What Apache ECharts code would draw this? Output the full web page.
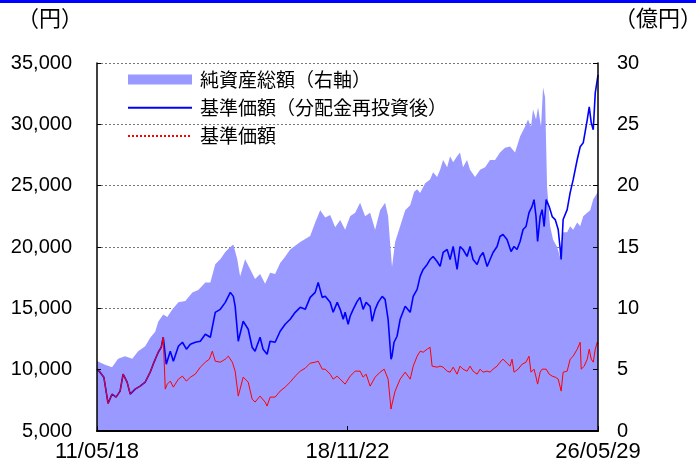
<!DOCTYPE html>
<html>
<head>
<meta charset="utf-8">
<script src="https://cdn.jsdelivr.net/npm/echarts@6/dist/echarts.min.js"></script>
<style>
html,body{margin:0;padding:0;background:#fff;}
#c{width:696px;height:463px;}
</style>
</head>
<body>
<div id="c"></div>
<script>
// ---- data ----
const startDate = '2011-05-18';
const endDate = '2026-05-29';
const xTickLabels = ['11/05/18', '18/11/22', '26/05/29'];
const leftTicks = [5000, 10000, 15000, 20000, 25000, 30000, 35000];
const rightTicks = [0, 5, 10, 15, 20, 25, 30];

const seriesNames = ['純資産総額（右軸）', '基準価額（分配金再投資後）', '基準価額'];

// 純資産総額 (億円, right axis)
const assetDates = ['2011-05-18','2011-08-14','2011-10-30','2012-01-04','2012-03-21','2012-06-07','2012-08-11','2012-10-27','2012-12-21','2013-02-14','2013-03-19','2013-05-13','2013-06-26','2013-08-20','2013-10-26','2014-01-10','2014-03-28','2014-06-01','2014-08-17','2014-10-11','2014-12-04','2015-01-28','2015-03-24','2015-05-18','2015-06-20','2015-08-02','2015-09-02','2015-10-27','2015-12-20','2016-02-13','2016-04-08','2016-06-02','2016-07-27','2016-09-20','2016-11-14','2017-01-08','2017-03-04','2017-06-22','2017-10-09','2017-12-03','2018-01-27','2018-03-23','2018-05-16','2018-07-10','2018-09-03','2018-10-27','2018-12-21','2019-02-14','2019-04-09','2019-06-03','2019-07-28','2019-09-21','2019-11-14','2020-01-08','2020-02-10','2020-03-02','2020-03-24','2020-04-27','2020-06-21','2020-08-15','2020-10-09','2020-11-22','2020-12-24','2021-01-26','2021-03-22','2021-05-15','2021-06-17','2021-07-31','2021-09-02','2021-10-05','2021-11-18','2021-12-20','2022-01-23','2022-03-07','2022-04-08','2022-05-11','2022-06-24','2022-07-27','2022-09-20','2022-11-14','2023-01-08','2023-03-03','2023-04-27','2023-06-20','2023-08-14','2023-10-08','2023-12-02','2024-01-26','2024-03-20','2024-04-22','2024-05-25','2024-06-16','2024-07-19','2024-08-10','2024-09-12','2024-10-04','2024-10-26','2024-11-17','2024-12-20','2025-01-22','2025-03-07','2025-04-07','2025-04-20','2025-05-12','2025-06-25','2025-07-28','2025-08-30','2025-10-13','2025-11-15','2025-12-18','2026-01-31','2026-03-05','2026-04-07','2026-05-21','2026-05-29'];
const assetValues = [5.7,5.4,5.2,5.9,6.1,5.9,6.5,6.9,7.6,8.1,8.9,9.5,9.3,9.9,10.5,10.6,11.3,11.5,12.1,12.1,13.6,14.0,14.6,15.0,15.2,14.0,12.6,14.0,13.2,12.4,12.8,12.0,12.9,12.8,13.7,14.2,14.8,15.4,15.9,17.0,18.0,17.4,17.6,16.6,17.2,16.4,17.5,17.8,18.6,17.5,17.8,16.4,18.0,18.6,17.5,15.4,13.4,15.4,16.7,18.0,18.4,19.5,19.7,19.4,20.2,20.5,21.1,20.7,21.3,22.1,21.5,22.4,21.9,22.4,22.7,21.5,22.1,21.3,20.7,21.3,21.5,22.1,22.1,22.7,23.1,23.2,22.7,24.0,24.8,25.4,24.8,26.2,25.4,26.4,24.8,28.0,27.2,19.9,16.7,15.6,15.0,14.2,14.0,16.2,16.2,16.7,16.4,17.0,16.7,17.5,17.8,18.0,18.9,19.4,19.7];

// 基準価額（分配金再投資後） (円, left axis)
const reinvDates = ['2011-05-18','2011-06-20','2011-08-01','2011-09-16','2011-10-30','2011-12-13','2012-01-26','2012-02-28','2012-04-12','2012-05-16','2012-07-09','2012-09-02','2012-10-27','2012-12-21','2013-01-23','2013-03-19','2013-04-21','2013-05-13','2013-06-15','2013-07-29','2013-09-01','2013-10-26','2013-12-09','2014-01-22','2014-03-06','2014-04-29','2014-06-23','2014-08-17','2014-10-11','2014-12-04','2015-01-28','2015-03-24','2015-05-18','2015-06-20','2015-07-10','2015-08-13','2015-10-06','2015-11-30','2016-01-12','2016-02-13','2016-04-08','2016-05-11','2016-06-24','2016-07-27','2016-09-20','2016-11-14','2017-01-08','2017-03-04','2017-04-28','2017-06-22','2017-08-16','2017-10-09','2017-12-03','2018-01-05','2018-02-18','2018-03-23','2018-05-16','2018-06-18','2018-08-01','2018-09-03','2018-10-06','2018-10-27','2018-11-29','2018-12-21','2019-01-23','2019-03-08','2019-04-09','2019-05-12','2019-06-14','2019-07-28','2019-08-19','2019-09-21','2019-10-24','2019-12-07','2020-01-08','2020-02-10','2020-03-13','2020-03-24','2020-04-15','2020-05-18','2020-06-21','2020-08-15','2020-10-09','2020-11-11','2020-12-24','2021-01-26','2021-02-28','2021-04-13','2021-05-15','2021-06-17','2021-07-31','2021-09-02','2021-10-05','2021-11-18','2021-12-20','2022-01-23','2022-03-07','2022-04-08','2022-05-11','2022-06-24','2022-07-27','2022-08-29','2022-10-12','2022-11-14','2022-12-17','2023-01-30','2023-03-03','2023-04-05','2023-05-19','2023-06-20','2023-07-23','2023-09-05','2023-10-19','2023-11-21','2023-12-24','2024-01-26','2024-02-28','2024-03-31','2024-05-03','2024-06-05','2024-06-27','2024-07-19','2024-08-05','2024-09-02','2024-09-24','2024-10-16','2024-11-07','2024-12-10','2025-01-12','2025-02-14','2025-03-19','2025-04-07','2025-04-20','2025-05-12','2025-06-25','2025-07-28','2025-08-30','2025-10-13','2025-11-15','2025-12-18','2026-01-31','2026-02-22','2026-03-16','2026-04-07','2026-04-29','2026-05-21','2026-05-29'];
const reinvValues = [10041,9797,9390,7250,8008,7764,8252,9634,8984,8008,8415,8659,8984,9797,10447,11423,11829,12642,10447,11504,10691,11911,12236,11667,12073,12236,12317,12886,12642,14675,14919,15488,16301,15976,15163,12317,13943,13293,11829,11504,12642,11667,11260,12317,12236,13130,13699,14106,14675,15081,14919,15894,16301,17114,15894,15976,15488,14675,15488,14919,14106,14675,13699,14350,14919,15569,15894,14919,15488,15163,13943,14919,15488,15976,15732,14106,10854,11098,12236,12724,14106,15163,14675,15976,16545,17602,18171,18577,18984,19228,18821,18415,19553,19797,18984,20041,18171,20041,19797,19228,20041,18984,18577,19228,19553,18415,18984,19553,20041,20854,21016,20610,19634,20041,19797,20447,21423,21667,22805,23293,23862,22480,20447,22480,23049,21667,23862,23293,22480,22236,21423,20041,18984,22236,23049,24431,25488,27114,28171,28496,30366,31423,30122,29553,32561,33618,34024];

// 基準価額 (円, left axis)
const navDates = ['2011-05-18','2011-06-20','2011-08-01','2011-09-16','2011-10-30','2011-12-13','2012-01-26','2012-02-28','2012-04-12','2012-05-16','2012-07-09','2012-09-02','2012-10-27','2012-12-21','2013-01-23','2013-03-19','2013-04-21','2013-05-13','2013-06-04','2013-06-26','2013-07-29','2013-09-01','2013-10-26','2013-12-09','2014-01-22','2014-03-06','2014-04-29','2014-06-23','2014-08-17','2014-09-30','2014-11-02','2014-12-04','2015-01-28','2015-03-24','2015-04-26','2015-06-09','2015-07-10','2015-08-13','2015-10-06','2015-11-30','2016-01-12','2016-02-13','2016-04-08','2016-06-02','2016-06-24','2016-07-27','2016-09-20','2016-11-14','2017-01-08','2017-03-04','2017-04-28','2017-06-22','2017-08-16','2017-10-09','2017-12-03','2018-01-05','2018-02-18','2018-03-23','2018-05-16','2018-06-18','2018-08-01','2018-09-03','2018-10-27','2018-12-21','2019-02-14','2019-04-09','2019-05-12','2019-06-14','2019-07-28','2019-09-21','2019-11-14','2019-12-29','2020-02-10','2020-03-13','2020-03-24','2020-04-27','2020-06-21','2020-08-15','2020-10-09','2020-11-11','2020-12-24','2021-01-26','2021-02-28','2021-04-13','2021-05-15','2021-06-06','2021-07-31','2021-09-02','2021-10-05','2021-11-18','2021-12-20','2022-01-23','2022-03-07','2022-04-08','2022-05-11','2022-06-24','2022-07-27','2022-08-29','2022-10-12','2022-11-14','2022-12-17','2023-01-30','2023-03-03','2023-04-05','2023-05-19','2023-06-20','2023-07-23','2023-09-05','2023-10-08','2023-10-30','2023-11-21','2024-01-05','2024-02-18','2024-03-31','2024-05-03','2024-05-25','2024-06-27','2024-07-19','2024-08-05','2024-09-02','2024-09-24','2024-11-07','2024-12-10','2025-01-12','2025-02-14','2025-03-19','2025-04-07','2025-04-20','2025-05-12','2025-06-25','2025-07-28','2025-08-30','2025-10-13','2025-11-15','2025-11-26','2025-12-29','2026-01-31','2026-02-22','2026-03-16','2026-04-07','2026-04-29','2026-05-21','2026-05-29'];
const navValues = [10041,9797,9390,7250,8008,7764,8252,9634,8984,8008,8415,8659,8984,9797,10447,11423,11829,12642,8415,8821,9065,8577,9228,9472,9065,9390,9634,10203,10610,10854,11504,10691,10610,10854,11098,10610,9878,7846,9390,8984,7602,7358,7846,7358,7033,7764,7764,8252,8577,8984,9472,9878,10122,10529,10610,10691,10041,10041,9634,9228,9472,9228,8821,9472,9878,9878,9390,9634,8659,9390,9797,10041,9228,6789,7195,8252,9228,9797,9228,10285,11098,11504,11423,11667,11829,10285,10203,10285,10203,9878,9797,10203,9634,10285,10041,9878,10285,9878,9634,10041,9797,9878,9797,10041,10285,10610,10854,10529,10285,10854,9797,10041,10447,10610,11098,9797,10041,9390,8821,9797,10041,10041,9634,9472,9390,9228,8659,8252,9797,9878,10854,11098,11667,12236,10041,10285,10854,11667,10854,10610,11667,12236,12073];

// ---- build ----
const DAY = 86400000;
const base = Date.parse(startDate);
const dayOf = d => Math.round((Date.parse(d) - base) / DAY);
const pair = (dates, vals) => dates.map((d, i) => [dayOf(d), vals[i]]);
const xMax = dayOf(endDate);
const xInterval = xMax / (xTickLabels.length - 1);
const fmtThousands = v => String(v).replace(/\B(?=(\d{3})+(?!\d))/g, ',');

const chart = echarts.init(document.getElementById('c'), null, {renderer: 'canvas'});
const labelFont = {fontSize: 20, fontFamily: 'Liberation Sans, Arial, sans-serif', color: '#000'};

chart.setOption({
  animation: false,
  backgroundColor: '#fff',
  grid: {left: 97, right: 98, top: 63, bottom: 31},
  legend: {
    orient: 'vertical', left: 127, top: 70, padding: 0,
    itemWidth: 64, itemHeight: 10, itemGap: 9.3,
    selectedMode: false,
    textStyle: {fontSize: 19, lineHeight: 19, fontFamily: 'Noto Sans CJK JP', color: '#000', padding: [0, 0, 0, 3]},
    data: [
      {name: seriesNames[0], icon: 'rect'},
      {name: seriesNames[1], itemStyle: {opacity: 0}},
      {name: seriesNames[2], itemStyle: {opacity: 0}, lineStyle: {type: 'dotted'}}
    ]
  },
  xAxis: {
    type: 'value', min: 0, max: xMax, interval: xInterval, z: 10,
    axisLine: {lineStyle: {color: '#000', width: 2}},
    axisTick: {inside: true, length: 5, lineStyle: {color: '#000', width: 1}},
    splitLine: {show: false},
    axisLabel: Object.assign({}, labelFont, {
      fontSize: 22, margin: 10, showMinLabel: true, showMaxLabel: true,
      formatter: v => xTickLabels[Math.round(v / xInterval)] || ''
    })
  },
  yAxis: [
    {
      type: 'value', position: 'left', min: leftTicks[0], max: leftTicks[leftTicks.length - 1],
      interval: leftTicks[1] - leftTicks[0], z: 10,
      axisLine: {show: true, lineStyle: {color: '#000', width: 1.5}},
      axisTick: {show: true, inside: true, length: 4, lineStyle: {color: '#000'}},
      splitLine: {show: false},
      axisLabel: Object.assign({}, labelFont, {margin: 25, formatter: fmtThousands})
    },
    {
      type: 'value', position: 'right', min: rightTicks[0], max: rightTicks[rightTicks.length - 1],
      interval: rightTicks[1] - rightTicks[0], z: 10,
      axisLine: {show: true, lineStyle: {color: '#000', width: 1.5}},
      axisTick: {show: true, inside: true, length: 5, lineStyle: {color: '#000'}},
      splitLine: {show: false},
      axisLabel: Object.assign({}, labelFont, {margin: 19})
    },
    {
      type: 'value', position: 'left', min: leftTicks[0], max: leftTicks[leftTicks.length - 1],
      interval: leftTicks[1] - leftTicks[0], z: 0,
      axisLine: {show: false}, axisTick: {show: false}, axisLabel: {show: false},
      splitLine: {show: true, lineStyle: {type: [2, 2], color: '#777', width: 1}}
    }
  ],
  series: [
    {
      name: seriesNames[0], type: 'line', yAxisIndex: 1, symbol: 'none', z: 1,
      data: pair(assetDates, assetValues),
      itemStyle: {color: '#9999ff'},
      lineStyle: {width: 0, color: '#9999ff'},
      areaStyle: {color: '#9999ff', opacity: 1}
    },
    {
      name: seriesNames[1], type: 'line', yAxisIndex: 0, symbol: 'none', z: 3,
      data: pair(reinvDates, reinvValues),
      itemStyle: {color: '#0000ff'},
      lineStyle: {color: '#0000ff', width: 1.6}
    },
    {
      name: seriesNames[2], type: 'line', yAxisIndex: 0, symbol: 'none', z: 4,
      data: pair(navDates, navValues),
      itemStyle: {color: '#ff0000'},
      lineStyle: {color: '#ff0000', width: 1}
    }
  ],
  graphic: [
    {type: 'rect', left: 0, top: 0, shape: {width: 696, height: 3}, style: {fill: '#0000ff'}, silent: true},
    {type: 'text', left: 17, top: 7, style: {text: '（円）', font: '22px "Noto Sans CJK JP"', fill: '#000'}},
    {type: 'text', right: -6, top: 7, style: {text: '（億円）', font: '22px "Noto Sans CJK JP"', fill: '#000'}}
  ]
});
</script>
</body>
</html>
